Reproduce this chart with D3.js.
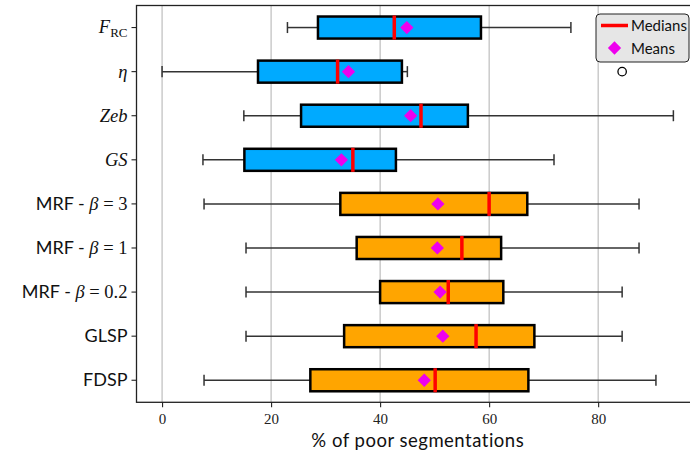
<!DOCTYPE html>
<meta charset="utf-8">
<style>
body { margin: 0; background: #fff; }
.tick text.num { font: 15px "Liberation Serif", serif; fill: #222; }
.ylab { font-size: 17px; fill: #111; }
.sans { font-family: Lato, sans-serif; }
.math { font-family: "Liberation Serif", serif; }
</style>
<svg width="690" height="456"></svg>
<script src="https://d3js.org/d3.v7.min.js"></script>
<script>
// categories, top to bottom
const categories = ["F_RC", "eta", "Zeb", "GS", "MRF3", "MRF1", "MRF02", "GLSP", "FDSP"];
const groups = ["blue", "blue", "blue", "blue", "orange", "orange", "orange", "orange", "orange"];
const whiskerLow  = [23.0, 0.0, 15.0, 7.5, 7.7, 15.4, 15.4, 15.4, 7.7];
const q1          = [28.6, 17.6, 25.5, 15.1, 32.7, 35.7, 40.0, 33.4, 27.2];
const medians     = [42.6, 32.2, 47.5, 35.0, 60.0, 55.0, 52.5, 57.6, 50.1];
const means       = [44.9, 34.2, 45.6, 32.9, 50.6, 50.5, 51.0, 51.5, 48.1];
const q3          = [58.5, 44.0, 56.1, 42.9, 67.0, 62.2, 62.6, 68.3, 67.2];
const whiskerHigh = [75.0, 45.0, 93.8, 71.9, 87.5, 87.5, 84.4, 84.4, 90.6];
const outliers    = [[], [84.4], [], [], [], [], [], [], []];
const xTicks = [0, 20, 40, 60, 80];

const colors = {blue: "#00aaff", orange: "#ffa500"};

// rich tick labels: [text, kind]
const labelParts = {
  F_RC: [["F", "mi"], ["RC", "sub"]],
  eta: [["η", "mi"]],
  Zeb: [["Zeb", "mi"]],
  GS: [["GS", "mi"]],
  MRF3: [["MRF - ", "sans"], ["β", "mi"], [" = 3", "mr"]],
  MRF1: [["MRF - ", "sans"], ["β", "mi"], [" = 1", "mr"]],
  MRF02: [["MRF - ", "sans"], ["β", "mi"], [" = 0.2", "mr"]],
  GLSP: [["GLSP", "sans"]],
  FDSP: [["FDSP", "sans"]]
};

const svg = d3.select("svg");
const m = {left: 136.5, right: 699, top: 5.5, bottom: 402.3};

const x = d3.scaleLinear().domain([-4.69, 98.5]).range([m.left, m.right]);
const y = d3.scaleBand().domain(categories).range([m.top, m.bottom]);
const bh = y.bandwidth() * 0.5;

// grid
svg.append("g").selectAll("line").data(xTicks).enter().append("line")
  .attr("x1", d => x(d)).attr("x2", d => x(d))
  .attr("y1", m.top).attr("y2", m.bottom)
  .attr("stroke", "#b0b0b0").attr("stroke-width", 1);

const g = svg.append("g");
categories.forEach(function(c, i) {
  const cy = y(c) + y.bandwidth() / 2;
  const row = g.append("g");
  // whiskers
  row.append("line").attr("x1", x(whiskerLow[i])).attr("x2", x(q1[i]))
    .attr("y1", cy).attr("y2", cy).attr("stroke", "#333").attr("stroke-width", 1.5);
  row.append("line").attr("x1", x(q3[i])).attr("x2", x(whiskerHigh[i]))
    .attr("y1", cy).attr("y2", cy).attr("stroke", "#333").attr("stroke-width", 1.5);
  [whiskerLow[i], whiskerHigh[i]].forEach(function(v) {
    row.append("line").attr("x1", x(v)).attr("x2", x(v))
      .attr("y1", cy - bh / 4).attr("y2", cy + bh / 4)
      .attr("stroke", "#333").attr("stroke-width", 1.5);
  });
  // box
  row.append("rect")
    .attr("x", x(q1[i])).attr("width", x(q3[i]) - x(q1[i]))
    .attr("y", cy - bh / 2).attr("height", bh)
    .attr("fill", colors[groups[i]]).attr("stroke", "#000").attr("stroke-width", 2.5);
  // median
  row.append("line").attr("x1", x(medians[i])).attr("x2", x(medians[i]))
    .attr("y1", cy - bh / 2 - 1).attr("y2", cy + bh / 2 + 1)
    .attr("stroke", "#ff0000").attr("stroke-width", 3.5);
  // mean
  row.append("path").attr("d", d3.symbol(d3.symbolSquare, 88)())
    .attr("transform", "translate(" + x(means[i]) + "," + cy + ") rotate(45)")
    .attr("fill", "#ee00ee");
  // outliers
  outliers[i].forEach(function(v) {
    row.append("circle").attr("cx", x(v)).attr("cy", cy).attr("r", 4.2)
      .attr("fill", "none").attr("stroke", "#000").attr("stroke-width", 1.3);
  });
});

// axes frame
svg.append("rect").attr("x", m.left).attr("y", m.top)
  .attr("width", m.right - m.left).attr("height", m.bottom - m.top)
  .attr("fill", "none").attr("stroke", "#222").attr("stroke-width", 1.3);

// x axis
const xa = svg.append("g").attr("transform", "translate(0," + m.bottom + ")")
  .call(d3.axisBottom(x).tickValues(xTicks).tickSize(5).tickPadding(6));
xa.select(".domain").remove();
xa.selectAll(".tick line").attr("stroke", "#222").attr("stroke-width", 1.1);
xa.selectAll(".tick text").attr("class", "num");

svg.append("text").attr("x", (m.left + m.right) / 2).attr("y", 447)
  .attr("text-anchor", "middle").attr("class", "sans")
  .style("font-size", "18.5px").style("letter-spacing", "0.5px").attr("fill", "#111")
  .text("% of poor segmentations");

// y axis
const ya = svg.append("g").attr("transform", "translate(" + m.left + ",0)")
  .call(d3.axisLeft(y).tickSize(5).tickPadding(4).tickFormat(""));
ya.select(".domain").remove();
ya.selectAll(".tick line").attr("stroke", "#222").attr("stroke-width", 1.1);
ya.selectAll(".tick").each(function(c) {
  const t = d3.select(this).append("text")
    .attr("class", "ylab").attr("x", -9).attr("dy", "0.35em")
    .attr("text-anchor", "end");
  labelParts[c].forEach(function(p) {
    const s = t.append("tspan").text(p[0]);
    if (p[1] === "sans") s.attr("class", "sans").style("font-size", "18px");
    if (p[1] === "mi") s.attr("class", "math").style("font-style", "italic").style("font-size", "18.5px");
    if (p[1] === "mr") s.attr("class", "math").style("font-size", "18.5px");
    if (p[1] === "sub") {
      s.attr("class", "math").style("font-size", "13px").attr("dy", "4");
    }
  });
});

// legend
const lg = svg.append("g").attr("transform", "translate(596,14)");
lg.append("rect").attr("width", 93).attr("height", 48).attr("rx", 4)
  .attr("fill", "#e6e6e6").attr("stroke", "#222").attr("stroke-width", 1);
lg.append("line").attr("x1", 5).attr("x2", 32).attr("y1", 11.5).attr("y2", 11.5)
  .attr("stroke", "#ff0000").attr("stroke-width", 3.5);
lg.append("text").attr("x", 35).attr("y", 17).attr("class", "sans")
  .style("font-size", "15px").attr("fill", "#111").text("Medians");
lg.append("path").attr("d", d3.symbol(d3.symbolSquare, 88)())
  .attr("transform", "translate(18.5,34) rotate(45)").attr("fill", "#ee00ee");
lg.append("text").attr("x", 35).attr("y", 39.5).attr("class", "sans")
  .style("font-size", "15px").attr("fill", "#111").text("Means");
</script>
